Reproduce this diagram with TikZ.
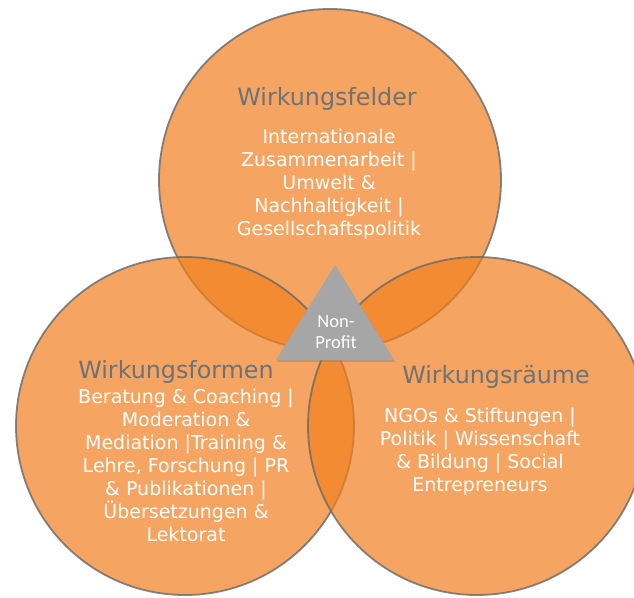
\documentclass[tikz,border=0pt]{standalone}
\usepackage{fontspec}
\setmainfont{DejaVu Sans}
\newfontfamily\smallfont{Carlito}
\usetikzlibrary{shadows}
\definecolor{ringfill}{RGB}{241,128,30}
\definecolor{ringline}{RGB}{105,105,105}
\definecolor{titlegray}{RGB}{108,114,120}
\definecolor{trigray}{RGB}{166,166,166}

\begin{document}
\begin{tikzpicture}[x=1pt,y=-1pt,
		disc/.style={fill=ringfill,draw=ringline,line width=1.8pt,fill opacity=0.7,draw opacity=0.8},
		heading/.style={anchor=base,text=titlegray,font=\fontsize{23.8}{28}\selectfont},
		body/.style={align=center,text=white,font=\fontsize{19}{23}\selectfont},
		npo/.style={align=center,text=white,font=\smallfont\fontsize{18.5}{21}\selectfont}]
		%%%%% START %%%%%
		\useasboundingbox (0,0) rectangle (634,597);
		\fill[white] (0,0) rectangle (634,597);
		\clip (0,0) rectangle (634,597);
		
		\coordinate (felder) at (330,180);
		\coordinate (formen) at (185,426);
		\coordinate (raeume) at (477,426);
		
		\draw[disc] (felder) circle (171);
		\draw[disc] (formen) circle (169);
		\draw[disc] (raeume) circle (169);
		
		\fill[trigray, drop shadow={shadow xshift=1pt, shadow yshift=-1.8pt, opacity=0.45}] (335,265) -- (394,360) -- (276,360) -- cycle;
		\node[npo] (nonprofit) at (336,332) {Non-\\Profit};
		
		\node[heading] (feldertitle) at (327,105) {Wirkungsfelder};
		\node[body] (felderbody) at (329,184) {Internationale\\Zusammenarbeit |\\Umwelt \&\\Nachhaltigkeit |\\Gesellschaftspolitik};
		
		\node[heading] (formentitle) at (176,378) {Wirkungsformen};
		\node[body] (formenbody) at (186,465) {Beratung \& Coaching |\\Moderation \&\\Mediation |Training \&\\Lehre, Forschung | PR\\\& Publikationen |\\Übersetzungen \&\\Lektorat};
		
		\node[heading] (raeumetitle) at (496,383) {Wirkungsräume};
		\node[body] (raeumebody) at (480,452) {NGOs \& Stiftungen |\\Politik | Wissenschaft\\\& Bildung | Social\\Entrepreneurs};
		%%%%% END %%%%%
\end{tikzpicture}
\end{document}
